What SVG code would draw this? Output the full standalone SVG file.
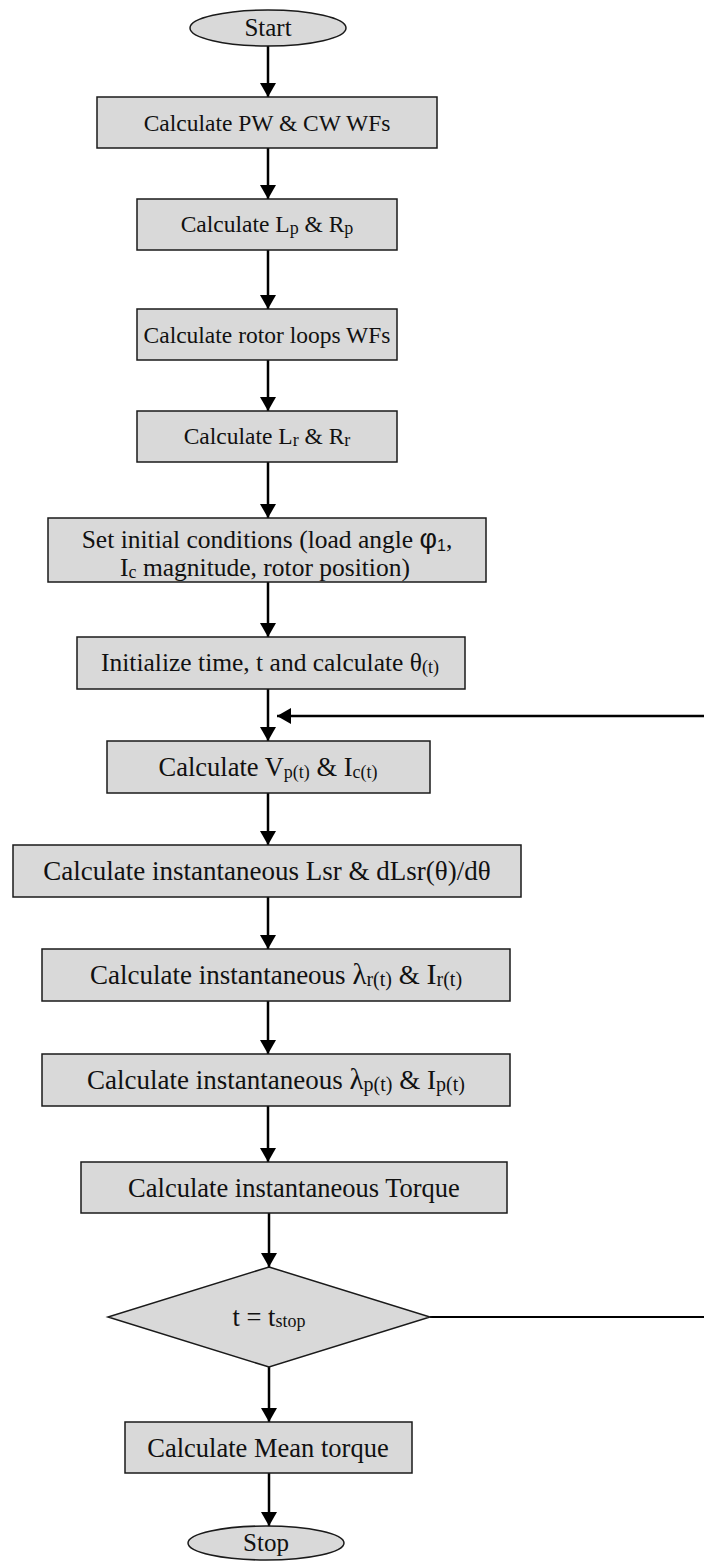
<svg xmlns="http://www.w3.org/2000/svg" width="704" height="1561" viewBox="0 0 704 1561">
  <defs>
    <marker id="ah" markerUnits="userSpaceOnUse" markerWidth="14" markerHeight="16" viewBox="0 0 14 16" refX="14" refY="8" orient="auto">
      <path d="M0,0 L14,8 L0,16 z" fill="#000"/>
    </marker>
  </defs>
  <style>
    .box { fill: #d9d9d9; stroke: #1a1a1a; stroke-width: 1.5; }
    .lbl { font-family: "Liberation Serif", "Times New Roman", serif; font-size: 25.5px; fill: #111; text-anchor: middle; }
    .md { font-size: 23.5px; }
    .lg { font-size: 26.5px; }
    .sub { font-size: 18px; }
    .sub2 { font-size: 20px; }
    .sym { font-family: "Liberation Sans", Arial, sans-serif; font-size: 27px; }
    .sym1 { font-family: "Liberation Sans", Arial, sans-serif; font-size: 16px; }
    .con { stroke: #000; stroke-width: 2.5; fill: none; }
    .arr { marker-end: url(#ah); }
  </style>

  <rect width="704" height="1561" fill="#fff"/>

  <g id="connectors">
    <line class="con arr" x1="268" y1="46" x2="268" y2="97"/>
    <line class="con arr" x1="268" y1="148" x2="268" y2="199"/>
    <line class="con arr" x1="268" y1="250" x2="268" y2="309"/>
    <line class="con arr" x1="268" y1="360" x2="268" y2="411"/>
    <line class="con arr" x1="268" y1="462" x2="268" y2="518"/>
    <line class="con arr" x1="268" y1="582" x2="268" y2="637"/>
    <line class="con arr" x1="268" y1="689" x2="268" y2="741"/>
    <line class="con arr" x1="704" y1="716" x2="277" y2="716"/>
    <line class="con arr" x1="268" y1="793" x2="268" y2="845"/>
    <line class="con arr" x1="268" y1="897" x2="268" y2="949"/>
    <line class="con arr" x1="268" y1="1001" x2="268" y2="1054"/>
    <line class="con arr" x1="268" y1="1106" x2="268" y2="1162"/>
    <line class="con arr" x1="269" y1="1213" x2="269" y2="1267"/>
    <line class="con" style="stroke-width:1.8" x1="430" y1="1317" x2="704" y2="1317"/>
    <line class="con arr" x1="269" y1="1367" x2="269" y2="1422"/>
    <line class="con arr" x1="269" y1="1473" x2="269" y2="1526"/>
  </g>

  <g id="start">
    <ellipse class="box" cx="268" cy="28" rx="78" ry="18"/>
    <text class="lbl" style="font-size:25px" x="268" y="36">Start</text>
  </g>

  <g id="pw-cw-wf">
    <rect class="box" x="97" y="97" width="340" height="51"/>
    <text class="lbl md" x="267" y="131">Calculate PW &amp; CW WFs</text>
  </g>

  <g id="lp-rp">
    <rect class="box" x="137" y="199" width="260" height="51"/>
    <text class="lbl md" x="267" y="232">Calculate L<tspan class="sub" dy="2">p</tspan><tspan dy="-2"> &amp; R</tspan><tspan class="sub" dy="2">p</tspan></text>
  </g>

  <g id="rotor-wf">
    <rect class="box" x="137" y="309" width="260" height="51"/>
    <text class="lbl md" x="267" y="343">Calculate rotor loops WFs</text>
  </g>

  <g id="lr-rr">
    <rect class="box" x="137" y="411" width="260" height="51"/>
    <text class="lbl md" x="267" y="444">Calculate L<tspan class="sub" dy="2">r</tspan><tspan dy="-2"> &amp; R</tspan><tspan class="sub" dy="2">r</tspan></text>
  </g>

  <g id="initial-conditions">
    <rect class="box" x="48" y="518" width="438" height="64"/>
    <text class="lbl" x="267" y="548">Set initial conditions (load angle <tspan class="sym">φ</tspan><tspan class="sym1" dy="3">1</tspan><tspan dy="-3">,</tspan></text>
    <text class="lbl" x="265" y="576">I<tspan class="sub" dy="2">c</tspan><tspan dy="-2"> magnitude, rotor position)</tspan></text>
  </g>

  <g id="init-time">
    <rect class="box" x="77" y="637" width="388" height="52"/>
    <text class="lbl" x="270" y="671">Initialize time, t and calculate θ<tspan class="sub" dy="2">(t)</tspan></text>
  </g>

  <g id="vp-ic">
    <rect class="box" x="107" y="741" width="323" height="52"/>
    <text class="lbl lg" x="268" y="776">Calculate V<tspan class="sub" dy="2">p(t)</tspan><tspan dy="-2"> &amp; I</tspan><tspan class="sub" dy="2">c(t)</tspan></text>
  </g>

  <g id="lsr">
    <rect class="box" x="13" y="845" width="508" height="52"/>
    <text class="lbl" style="font-size:27px" x="267" y="880">Calculate instantaneous Lsr &amp; dLsr(θ)/dθ</text>
  </g>

  <g id="lambda-r">
    <rect class="box" x="42" y="949" width="468" height="52"/>
    <text class="lbl" style="font-size:27px" x="276" y="984">Calculate instantaneous <tspan style="font-size:29px">λ</tspan><tspan class="sub2" dy="2">r(t)</tspan><tspan dy="-2"> &amp; </tspan><tspan style="font-size:30px">I</tspan><tspan class="sub2" dy="2">r(t)</tspan></text>
  </g>

  <g id="lambda-p">
    <rect class="box" x="42" y="1054" width="468" height="52"/>
    <text class="lbl" style="font-size:27px" x="276" y="1089">Calculate instantaneous <tspan style="font-size:29px">λ</tspan><tspan class="sub2" dy="2">p(t)</tspan><tspan dy="-2"> &amp; I</tspan><tspan class="sub2" dy="2">p(t)</tspan></text>
  </g>

  <g id="torque">
    <rect class="box" x="81" y="1162" width="426" height="51"/>
    <text class="lbl lg" x="294" y="1197">Calculate instantaneous Torque</text>
  </g>

  <g id="stop-check">
    <polygon class="box" points="269,1267 430,1317 269,1367 108,1317"/>
    <text class="lbl lg" x="269" y="1326">t = t<tspan class="sub" dy="1">stop</tspan></text>
  </g>

  <g id="mean-torque">
    <rect class="box" x="125" y="1422" width="287" height="51"/>
    <text class="lbl lg" x="268" y="1457">Calculate Mean torque</text>
  </g>

  <g id="stop">
    <ellipse class="box" cx="266" cy="1543" rx="78" ry="17"/>
    <text class="lbl" style="font-size:25px" x="266" y="1551">Stop</text>
  </g>
</svg>
